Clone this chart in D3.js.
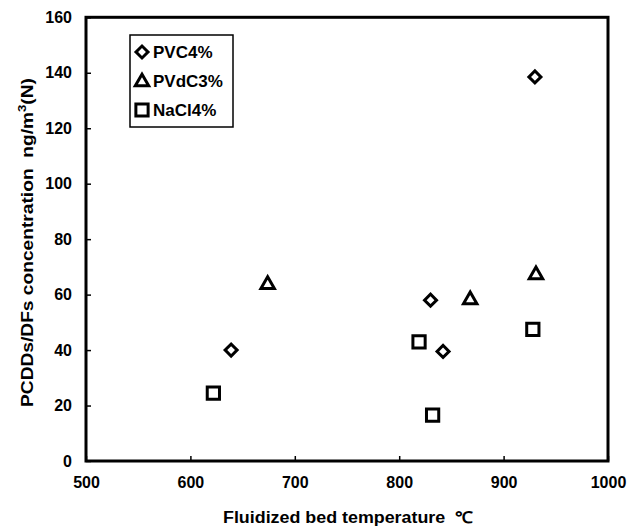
<!DOCTYPE html>
<html>
<head>
<meta charset="utf-8">
<script src="https://cdn.jsdelivr.net/npm/d3@7"></script>
<style>
  html, body { margin: 0; padding: 0; background: #fff; }
  svg { display: block; }
  text { font-family: "Liberation Sans", Arial, sans-serif; font-weight: bold; fill: #000; white-space: pre; }
</style>
</head>
<body>
<svg id="chart" width="633" height="531"></svg>
<script>
// ---- data ----
const xTicks = [500, 600, 700, 800, 900, 1000];
const yTicks = [0, 20, 40, 60, 80, 100, 120, 140, 160];
const seriesNames = ["PVC4%", "PVdC3%", "NaCl4%"];
const pvcX = [639, 830, 842, 930];
const pvcY = [40, 58, 39.5, 138.5];
const pvdcX = [674, 868, 931];
const pvdcY = [64, 58.5, 67.5];
const naclX = [622, 819, 832, 928];
const naclY = [24.5, 43, 16.5, 47.5];
const xTitle = "Fluidized bed temperature\u00A0\u00A0\u2103";

// ---- layout ----
const svg = d3.select("#chart");
const plotL = 86, plotR = 608, plotT = 17.3, plotB = 461;
const x = d3.scaleLinear().domain([500, 1000]).range([plotL, plotR]);
const y = d3.scaleLinear().domain([0, 160]).range([plotB, plotT]);

const series = [
  { name: seriesNames[0], xs: pvcX, ys: pvcY, shape: "diamond" },
  { name: seriesNames[1], xs: pvdcX, ys: pvdcY, shape: "triangle" },
  { name: seriesNames[2], xs: naclX, ys: naclY, shape: "square" }
];

function symbolPath(shape) {
  if (shape === "diamond") return d3.symbol().type(d3.symbolSquare).size(72)();
  if (shape === "triangle") return d3.symbol().type(d3.symbolTriangle).size(78)();
  return d3.symbol().type(d3.symbolSquare).size(150)();
}
function symbolTransform(shape, cx, cy) {
  if (shape === "diamond") return `translate(${cx},${cy}) rotate(45)`;
  if (shape === "triangle") return `translate(${cx},${cy + 1})`;
  return `translate(${cx},${cy})`;
}

// axes
const fmt = d3.format("d");
const xAxis = d3.axisBottom(x).tickValues(xTicks).tickFormat(fmt).tickSizeInner(-5).tickSizeOuter(0).tickPadding(16);
const yAxis = d3.axisLeft(y).tickValues(yTicks).tickFormat(fmt).tickSizeInner(-5).tickSizeOuter(0).tickPadding(14);

const gx = svg.append("g").attr("transform", `translate(0,${plotB})`).call(xAxis);
const gy = svg.append("g").attr("transform", `translate(${plotL},0)`).call(yAxis);
[gx, gy].forEach(g => {
  g.select(".domain").remove();
  g.selectAll(".tick line").attr("stroke", "#000").attr("stroke-width", 1.5);
  g.selectAll(".tick text").attr("font-size", 16).attr("font-family", "'Liberation Sans', Arial, sans-serif").attr("font-weight", "bold").attr("fill", "#000");
});

// frame
svg.append("rect")
  .attr("x", plotL).attr("y", plotT)
  .attr("width", plotR - plotL).attr("height", plotB - plotT)
  .attr("fill", "none").attr("stroke", "#000").attr("stroke-width", 3);

// points
series.forEach(s => {
  svg.append("g").selectAll("path")
    .data(s.xs.map((v, i) => [v, s.ys[i]]))
    .join("path")
    .attr("d", symbolPath(s.shape))
    .attr("transform", d => symbolTransform(s.shape, x(d[0]), y(d[1])))
    .attr("fill", "#fff").attr("stroke", "#000").attr("stroke-width", 3);
});

// legend
const leg = svg.append("g");
leg.append("rect").attr("x", 130).attr("y", 35).attr("width", 103).attr("height", 92)
  .attr("fill", "#fff").attr("stroke", "#000").attr("stroke-width", 1.5);
series.forEach((s, i) => {
  const cy = 52 + i * 29;
  leg.append("path").attr("d", symbolPath(s.shape))
    .attr("transform", symbolTransform(s.shape, 142, cy))
    .attr("fill", "#fff").attr("stroke", "#000").attr("stroke-width", 3);
  leg.append("text").attr("x", 153).attr("y", cy + 6).attr("font-size", 17).text(s.name);
});

// axis titles
svg.append("text").attr("x", 348).attr("y", 523).attr("text-anchor", "middle")
  .attr("font-size", 16).attr("textLength", 250).attr("lengthAdjust", "spacingAndGlyphs")
  .text(xTitle);

const yt = svg.append("text")
  .attr("transform", "translate(32.5,242.5) rotate(-90)")
  .attr("text-anchor", "middle").attr("font-size", 16)
  .attr("textLength", 329).attr("lengthAdjust", "spacingAndGlyphs");
yt.append("tspan").text("PCDDs/DFs concentration\u00A0\u00A0ng/m");
yt.append("tspan").attr("font-size", 11).attr("dy", -7).text("3");
yt.append("tspan").attr("dy", 7).text("(N)");
</script>
</body>
</html>
